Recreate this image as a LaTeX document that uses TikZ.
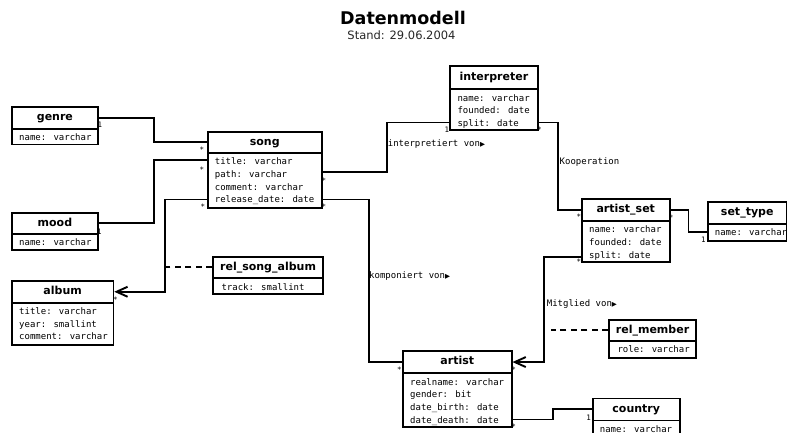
\documentclass[tikz,border=0pt]{standalone}
\usepackage{fontspec}
\setmainfont{DejaVu Sans}
\newfontfamily\monof{DejaVu Sans Mono}
\usetikzlibrary{calc,arrows.meta}
\tikzset{
  hdr/.style={draw, line width=1.8pt, inner sep=0pt, fill=white, anchor=north west,
    font=\bfseries\fontsize{11}{13}\selectfont, text height=8pt, text depth=2.5pt},
  bdy/.style={draw, line width=1.8pt, inner sep=0pt, fill=white, anchor=north west},
  attr/.style={inner sep=0pt, anchor=base west, font=\monof\fontsize{9}{12.7}\selectfont},
  conn/.style={line width=1.9pt},
  arr/.style={conn, -{Straight Barb[length=11pt,width=10pt]}},
  reldash/.style={conn, dash pattern=on 6pt off 4.5pt},
  mult/.style={inner sep=0pt, font=\monof\fontsize{7.5}{8}\selectfont},
  lbl/.style={inner sep=0pt, anchor=base west, font=\monof\fontsize{9}{11}\selectfont},
}
\newcommand\tri{{\rmfamily\fontsize{6.5}{7}\selectfont ▶}}
% name, x1, y1, x2, ysep, y2, title, attributes
\newcommand\umlclass[8]{%
  \pgfmathsetmacro\cw{#4-#2}%
  \pgfmathsetmacro\hh{#5-#3}%
  \pgfmathsetmacro\bh{#6-#5}%
  \node[bdy, minimum width=\cw pt, minimum height=\bh pt] (#1-b) at (#2,#5) {};
  \node[hdr, minimum width=\cw pt, minimum height=\hh pt] (#1-h) at (#2,#3) {#7};
  \node[attr] (#1-a) at ($(#2,#5)+(8,12.8)$) {\parbox[t]{120pt}{#8}};
}
\begin{document}
\begin{tikzpicture}[x=1pt,y=-1pt]
\useasboundingbox (0,0) rectangle (787,432);
\clip (0,0) rectangle (787,432);

% title
\node[font=\bfseries\fontsize{17.5}{20}\selectfont, anchor=base, inner sep=0pt] (title) at (403,24) {Datenmodell};
\node[font=\fontsize{11.5}{13}\selectfont, anchor=base, inner sep=0pt, text=black!85] (stand) at (401.5,39.5) {Stand: 29.06.2004};

% classes
\umlclass{genre}{11}{106}{97}{128}{143.5}{genre}{name: varchar}
\umlclass{mood}{11}{211.7}{97}{233}{249}{mood}{name: varchar}
\umlclass{album}{11}{280}{112.5}{301.7}{344}{album}{title: varchar\\year: smallint\\comment: varchar}
\umlclass{song}{206.7}{130.7}{321}{152}{207}{song}{title: varchar\\path: varchar\\comment: varchar\\release\_date: date}
\umlclass{rsa}{212.3}{255.7}{322}{277.3}{293}{rel\_song\_album}{\hspace*{1pt}track: smallint}
\umlclass{interp}{449.3}{65}{536.7}{88.3}{129.3}{interpreter}{name: varchar\\founded: date\\split: date}
\umlclass{aset}{581}{198.3}{668.7}{220}{261}{artist\_set}{name: varchar\\founded: date\\split: date}
\umlclass{stype}{706.7}{201}{786}{222.7}{240}{set\_type}{name: varchar}
\umlclass{artist}{402}{350}{510.7}{372.3}{425.7}{artist}{realname: varchar\\gender: bit\\date\_birth: date\\date\_death: date}
\umlclass{rmem}{608.3}{318.7}{695}{340}{356.7}{rel\_member}{\hspace*{1pt}role: varchar}
\umlclass{country}{591.7}{397.5}{679}{419.5}{445}{country}{name: varchar}

% connectors
\draw[conn] (genre-h.east) -- ++(54.8,0) |- (song-h.west);
\draw[conn] (mood-h.east) -- ++(54.8,0) |- ($(song-b.north west)+(0,8)$);
\draw[arr] ($(song-b.south west)+(0,-9.3)$) -- ++(-41.7,0) |- (album-h.east);
\draw[reldash] (rsa-h.west) -- ++(-47.3,0);
\draw[conn] ($(song-b.north east)+(0,20.3)$) -- ++(64,0) |- ($(interp-b.south west)+(0,-8.6)$);
\draw[conn] ($(interp-b.south east)+(0,-8.6)$) -| ($(aset-h.west)+(-22.7,0)$) -- (aset-h.west);
\draw[conn] (aset-h.east) -- ++(18,0) |- (stype-b.west);
\draw[arr] ($(aset-b.south west)+(0,-6)$) -- ++(-36.7,0) |- (artist-h.east);
\draw[conn] ($(song-b.south east)+(0,-9.3)$) -- ++(46,0) |- (artist-h.west);
\draw[reldash] (rmem-h.west) -- ++(-57.6,0);
\draw[conn] ($(artist-b.south east)+(0,-8)$) -- ++(40.6,0) |- (country-h.west);

% connector labels
\node[lbl] (l-interp) at (387.7,146.3) {interpretiert von\tri};
\node[lbl] (l-koop) at (559.5,164) {Kooperation};
\node[lbl] (l-komp) at (369,278.5) {komponiert von\tri};
\node[lbl] (l-mitg) at (546.7,306) {Mitglied von\tri};

% multiplicities
\node[mult] (m1) at (100,124.7) {1};
\node[mult] (m2) at (202,150) {*};
\node[mult] (m3) at (202,169.5) {*};
\node[mult] (m4) at (99.5,231.5) {1};
\node[mult] (m5) at (203,207) {*};
\node[mult] (m6) at (115.5,300) {*};
\node[mult] (m7) at (324,181) {*};
\node[mult] (m8) at (324,207) {*};
\node[mult] (m9) at (447,129.7) {1};
\node[mult] (m10) at (539.3,129.7) {*};
\node[mult] (m11) at (579,217) {*};
\node[mult] (m12) at (671,217.5) {*};
\node[mult] (m13) at (703.3,240) {1};
\node[mult] (m14) at (579,262) {*};
\node[mult] (m15) at (399.3,369.7) {*};
\node[mult] (m16) at (513.7,369.7) {*};
\node[mult] (m17) at (513.7,427) {*};
\node[mult] (m18) at (588.7,418) {1};
\end{tikzpicture}
\end{document}
